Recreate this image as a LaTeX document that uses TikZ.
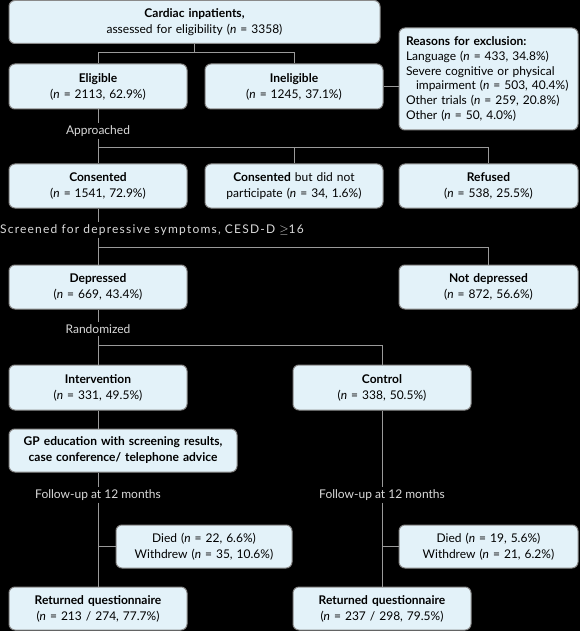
\documentclass[tikz,border=0pt]{standalone}
\usepackage{fontspec}
\setmainfont{Lato}
\usetikzlibrary{positioning}

\definecolor{boxfill}{HTML}{E3F2F9}
\definecolor{boxline}{HTML}{8A8A8A}
\definecolor{linkgray}{HTML}{9A9A9A}
\definecolor{labelgray}{HTML}{DADADA}

\tikzset{
  box/.style={draw=boxline, fill=boxfill, rounded corners=6pt, line width=1pt,
    align=center, inner sep=2pt, text width=172pt, minimum width=178pt,
    minimum height=44pt, font=\fontsize{12}{16}\selectfont},
  steplabel/.style={text=labelgray, inner sep=2pt, font=\fontsize{12}{14}\selectfont},
  link/.style={draw=linkgray, line width=1pt}
}
\newcommand{\nn}{\textit{n}}

\begin{document}
\begin{tikzpicture}[x=1pt,y=-1pt]
  \fill[black] (0,0) rectangle (580,631);
  \useasboundingbox (0,0) rectangle (580,631);

  % boxes
  \node[box, text width=362pt, minimum width=371pt, minimum height=43pt] (cardiac) at (194.5,22)
    {\textbf{Cardiac inpatients,}\\assessed for eligibility (\nn{} = 3358)};
  \node[box, minimum height=45pt] (eligible) at (98,86.5) {\textbf{Eligible}\\(\nn{} = 2113, 62.9\%)};
  \node[box, minimum height=45pt, right=17pt of eligible] (ineligible) {\textbf{Ineligible}\\(\nn{} = 1245, 37.1\%)};
  \node[box, align=left, text width=165pt, minimum width=179pt, minimum height=102pt,
        font=\fontsize{12}{14.8}\selectfont] (reasons) at (488.5,79)
    {\textbf{Reasons for exclusion:}\\
     Language (\nn{} = 433, 34.8\%)\\
     Severe cognitive or physical\\
     \hspace*{10pt}impairment (\nn{} = 503, 40.4\%)\\
     Other trials (\nn{} = 259, 20.8\%)\\
     Other (\nn{} = 50, 4.0\%)};

  \node[box] (consented) at (98,186) {\textbf{Consented}\\(\nn{} = 1541, 72.9\%)};
  \node[box, right=17pt of consented] (notpart) {\textbf{Consented} but did not\\participate (\nn{} = 34, 1.6\%)};
  \node[box, minimum width=179pt] (refused) at (488.5,186) {\textbf{Refused}\\(\nn{} = 538, 25.5\%)};

  \node[box] (depressed) at (98,287) {\textbf{Depressed}\\(\nn{} = 669, 43.4\%)};
  \node[box, minimum width=179pt] (notdep) at (488.5,287) {\textbf{Not depressed}\\(\nn{} = 872, 56.6\%)};

  \node[box, minimum height=45pt] (intervention) at (98,387.5) {\textbf{Intervention}\\(\nn{} = 331, 49.5\%)};
  \node[box, minimum height=45pt] (control) at (382,387.5) {\textbf{Control}\\(\nn{} = 338, 50.5\%)};

  \node[box, text width=222pt, minimum width=228pt, minimum height=43pt] (gp) at (123,450.5)
    {\textbf{GP education with screening results,}\\\textbf{case conference/ telephone advice}};

  \node[box, minimum width=176pt, minimum height=43pt] (died1) at (204,546.5) {Died (\nn{} = 22, 6.6\%)\\Withdrew (\nn{} = 35, 10.6\%)};
  \node[box, minimum width=179pt, minimum height=43pt] (died2) at (488.5,546.5) {Died (\nn{} = 19, 5.6\%)\\Withdrew (\nn{} = 21, 6.2\%)};

  \node[box, minimum height=43pt] (returned1) at (98,608.5) {\textbf{Returned questionnaire}\\(\nn{} = 213 / 274, 77.7\%)};
  \node[box, minimum height=43pt] (returned2) at (382,608.5) {\textbf{Returned questionnaire}\\(\nn{} = 237 / 298, 79.5\%)};

  % step labels
  \node[steplabel] (approached) at (98,131) {Approached};
  \node[steplabel, anchor=west, inner xsep=0pt] (screened) at (0,230)
    {\addfontfeature{LetterSpace=10}Screened for depressive symptoms, CESD-D $\geq$16};
  \node[steplabel] (randomized) at (98,329) {Randomized};
  \node[steplabel] (follow1) at (98,495) {Follow-up at 12 months};
  \node[steplabel] (follow2) at (382,495) {Follow-up at 12 months};

  % connectors
  \coordinate (b1) at ([yshift=-9pt]cardiac.south);
  \draw[link] (cardiac.south) -- (b1) -| (eligible.north);
  \draw[link] (b1) -| (ineligible.north);
  \draw[link] (ineligible.east) -- (ineligible.east -| reasons.west);

  \draw[link] (eligible.south) -- (approached.north);
  \draw[link] (approached.south) -- (consented.north);
  \coordinate (b2) at (98,148);
  \draw[link] (b2) -| (notpart.north);
  \draw[link] (b2) -| (refused.north);

  \draw[link] (consented.south) -- (consented.south |- screened.north);
  \draw[link] (consented.south |- screened.south) -- (depressed.north);
  \coordinate (b3) at (98,247);
  \draw[link] (b3) -| (notdep.north);

  \draw[link] (depressed.south) -- (randomized.north);
  \draw[link] (randomized.south) -- (intervention.north);
  \coordinate (b4) at (98,345);
  \draw[link] (b4) -| (control.north);

  \draw[link] (intervention.south) -- (intervention.south |- gp.north);
  \draw[link] (follow1.north |- gp.south) -- (follow1.north);
  \draw[link] (follow1.south) -- (returned1.north);
  \draw[link] (died1.west) -- (died1.west -| follow1.south);

  \draw[link] (control.south) -- (follow2.north);
  \draw[link] (follow2.south) -- (returned2.north);
  \draw[link] (died2.west) -- (died2.west -| follow2.south);
\end{tikzpicture}
\end{document}
